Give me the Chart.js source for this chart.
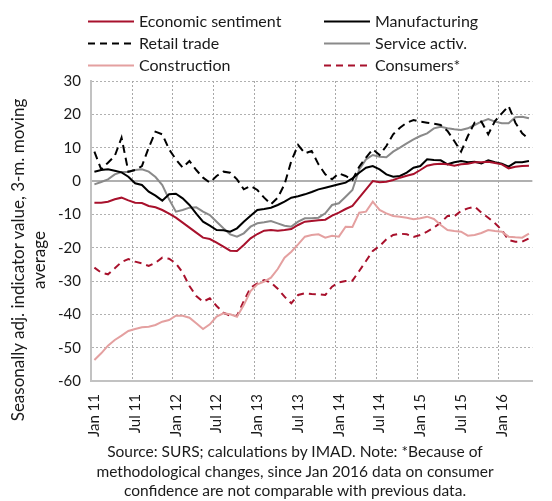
<!DOCTYPE html>
<html>
<head>
<meta charset="utf-8">
<script src="https://cdn.jsdelivr.net/npm/chart.js@4.4.1/dist/chart.umd.min.js"></script>
<style>
body { margin: 0; background: #fff; }
#wrap { position: relative; width: 552px; height: 501px; font-family: Lato, sans-serif; color: #1a1a1a; }
#wrap canvas { position: absolute; left: 0; top: 0; }
.leg { position: absolute; height: 22px; line-height: 22px; font-size: 16px; white-space: nowrap; }
.leg svg { position: absolute; left: 0; top: 10px; }
.leg span { position: absolute; left: 51px; top: 0; }
#ytitle { position: absolute; width: 380px; height: 44px; left: -161px; top: 238px;
  transform: rotate(-90deg); text-align: center; font-size: 17px; line-height: 21px; }
#note { position: absolute; left: 40px; width: 510px; top: 442px; text-align: center;
  font-size: 15.5px; line-height: 19.5px; }
</style>
</head>
<body>
<div id="wrap">
  <canvas id="chart" width="552" height="501"></canvas>
  <div id="legend"></div>
  <div id="ytitle">Seasonally adj. indicator value, 3-m. moving<br>average</div>
  <div id="note">Source: SURS; calculations by IMAD. Note: *Because of<br>methodological changes, since Jan 2016 data on consumer<br>confidence are not comparable with previous data.</div>
</div>
<script>
// monthly, Jan 2011 - May 2016
var monthNames = ["Jan","Feb","Mar","Apr","May","Jun","Jul","Aug","Sep","Oct","Nov","Dec"]
var years = ["11","12","13","14","15","16"]
var nMonths = 65

var economicSentiment = [
  -6.5, -6.5, -6.2, -5.5, -5.0, -5.8, -6.5, -6.6, -7.5, -7.9,
  -8.7, -9.8, -11.0, -12.5, -14.0, -15.5, -17.0, -17.4, -18.5, -19.7,
  -20.9, -21.0, -19.2, -17.2, -15.9, -14.9, -14.7, -14.9, -14.7, -14.4,
  -13.2, -12.2, -12.0, -11.8, -11.6, -10.4, -9.5, -8.4, -7.5, -5.0,
  -2.5, 0.0, -0.4, -0.2, 0.3, 1.0, 1.6, 2.1, 3.3, 4.6,
  5.0, 5.2, 5.0, 4.6, 5.0, 5.2, 5.6, 5.6, 5.8, 5.4,
  5.0, 3.8, 4.3, 4.5, 4.6
]
var manufacturing = [
  2.8, 3.3, 3.5, 3.1, 2.6, 1.3, -0.7, -1.2, -3.2, -4.4,
  -5.9, -4.0, -3.8, -5.2, -7.2, -9.8, -12.2, -13.4, -14.7, -14.8,
  -15.2, -14.2, -12.2, -10.4, -8.7, -8.4, -8.0, -7.2, -6.2, -5.0,
  -4.6, -4.0, -3.3, -2.5, -2.0, -1.5, -1.0, -0.5, 0.8, 2.5,
  4.0, 4.5, 3.5, 2.0, 1.3, 1.5, 2.5, 4.0, 4.5, 6.5,
  6.3, 6.2, 5.0, 5.6, 6.0, 5.6, 5.8, 5.3, 6.2, 5.6,
  5.2, 4.3, 5.6, 5.6, 6.0
]
var retailTrade = [
  8.8, 3.5, 5.5, 7.5, 13.0, 2.8, 3.3, 4.5, 10.0, 14.8,
  14.0, 9.5, 6.5, 4.0, 6.0, 3.3, 1.0, -0.5, 1.5, 2.8,
  2.5, 0.5, -2.5, -1.5, -2.7, -5.0, -7.0, -5.0, -1.0, 6.0,
  10.8, 8.3, 9.0, 5.0, 2.0, 0.5, 2.3, 1.5, 0.3, 4.3,
  7.0, 9.5, 7.8, 10.5, 14.0, 16.0, 17.5, 18.3, 17.8, 17.5,
  17.2, 16.8, 15.0, 12.0, 8.8, 13.5, 17.5, 17.8, 14.0, 18.0,
  20.3, 22.5, 17.5, 14.3, 12.5
]
var serviceActiv = [
  -1.0, -0.3, 0.5, 2.0, 2.7, 2.7, 3.3, 3.5, 2.8, 1.2,
  -1.2, -5.5, -9.2, -8.7, -8.0, -7.9, -9.2, -10.2, -12.2, -14.2,
  -16.0, -16.7, -15.7, -13.7, -12.7, -12.4, -12.0, -12.7, -13.4, -13.7,
  -12.2, -11.2, -11.2, -11.0, -9.7, -7.2, -6.7, -4.7, -2.7, 3.5,
  6.5, 7.8, 7.3, 7.1, 8.8, 10.0, 11.3, 12.5, 13.5, 14.3,
  15.8, 16.3, 15.8, 15.5, 15.3, 15.8, 16.8, 17.8, 18.6, 17.8,
  17.3, 17.3, 19.1, 19.3, 18.8
]
var construction = [
  -53.7, -51.7, -49.4, -47.7, -46.4, -45.0, -44.4, -43.9, -43.7, -43.2,
  -42.2, -41.7, -40.4, -40.4, -41.0, -42.7, -44.4, -43.0, -40.7, -39.7,
  -40.0, -40.7, -37.2, -33.0, -31.0, -30.2, -29.0, -26.4, -23.0, -21.2,
  -19.0, -16.7, -16.2, -16.0, -17.0, -16.4, -16.7, -13.7, -13.8, -9.5,
  -9.2, -6.2, -8.7, -9.7, -10.5, -10.7, -11.0, -11.5, -11.2, -10.7,
  -11.4, -13.2, -14.7, -15.0, -15.2, -16.4, -16.2, -15.6, -14.7, -15.0,
  -15.2, -16.7, -16.9, -17.0, -15.8
]
var consumers = [
  -26.0, -27.5, -28.0, -26.2, -24.3, -23.4, -24.2, -24.7, -25.5, -24.5,
  -23.0, -23.3, -24.7, -27.5, -31.5, -34.5, -36.2, -35.2, -37.5, -39.5,
  -40.4, -40.5, -36.0, -32.0, -30.7, -29.7, -30.5, -32.3, -34.7, -36.7,
  -34.2, -33.7, -33.9, -34.0, -34.2, -31.7, -30.4, -30.0, -29.9, -27.0,
  -24.0, -21.0, -19.5, -17.5, -16.2, -15.8, -16.0, -16.8, -16.2, -15.2,
  -14.0, -12.5, -10.5, -10.6, -9.0, -8.2, -7.7, -9.5, -11.0, -12.7,
  -14.7, -17.7, -18.2, -18.2, -17.2
]

var labels = []
for (var i = 0; i < nMonths; i++) {
  labels.push(monthNames[i % 12] + " " + years[Math.floor(i / 12)])
}

var darkRed = "#a8112c"
var series = [
  { label: "Economic sentiment", data: economicSentiment, color: darkRed, dash: [] },
  { label: "Manufacturing", data: manufacturing, color: "#000000", dash: [] },
  { label: "Retail trade", data: retailTrade, color: "#000000", dash: [8, 5] },
  { label: "Service activ.", data: serviceActiv, color: "#8a8a8a", dash: [] },
  { label: "Construction", data: construction, color: "#e4a0a0", dash: [] },
  { label: "Consumers*", data: consumers, color: darkRed, dash: [7, 5] }
]

// legend, two columns
var legend = document.getElementById("legend")
series.forEach(function (s, i) {
  var col = i % 2, row = Math.floor(i / 2)
  var d = document.createElement("div")
  d.className = "leg"
  d.style.left = (col ? 324 : 88) + "px"
  d.style.top = (10 + row * 22) + "px"
  var dash = s.dash.length ? ' stroke-dasharray="7 5"' : ''
  d.innerHTML = '<svg width="46" height="3"><line x1="0" y1="1.5" x2="46" y2="1.5" stroke="' + s.color +
    '" stroke-width="2"' + dash + '/></svg><span>' + s.label + '</span>'
  legend.appendChild(d)
})

// dotted vertical lines every 6 months, at the left edge of the category
var halfYearGrid = {
  id: "halfYearGrid",
  beforeDatasetsDraw: function (chart) {
    var xs = chart.scales.x, area = chart.chartArea, ctx = chart.ctx
    var half = (xs.getPixelForValue(1) - xs.getPixelForValue(0)) / 2
    ctx.save()
    ctx.strokeStyle = "#a8a8a8"
    ctx.lineWidth = 1
    ctx.setLineDash([2, 2])
    for (var i = 6; i < nMonths; i += 6) {
      var px = Math.round(xs.getPixelForValue(i) - half) + 0.5
      ctx.beginPath()
      ctx.moveTo(px, area.top)
      ctx.lineTo(px, area.bottom)
      ctx.stroke()
    }
    ctx.restore()
  }
}

var tickFont = { family: "Lato", size: 15 }

var chart = new Chart("chart", {
  type: "line",
  data: {
    labels: labels,
    datasets: series.map(function (s) {
      return {
        label: s.label,
        data: s.data,
        borderColor: s.color,
        backgroundColor: s.color,
        borderDash: s.dash,
        borderWidth: 2,
        pointRadius: 0,
        tension: 0,
        fill: false
      }
    })
  },
  plugins: [halfYearGrid],
  options: {
    responsive: false,
    animation: false,
    layout: { padding: { top: 81, right: 4, bottom: 0, left: 0 } },
    plugins: { legend: { display: false }, tooltip: { enabled: false } },
    scales: {
      x: {
        type: "category",
        offset: true,
        afterFit: function (scale) { scale.height = 120 },
        grid: { display: false },
        border: { display: true, color: "#c2c2c2", width: 2 },
        ticks: {
          autoSkip: false,
          maxRotation: 90,
          minRotation: 90,
          padding: 5,
          color: "#1a1a1a",
          font: tickFont,
          callback: function (v, i) { return i % 6 === 0 ? labels[i] : "" }
        }
      },
      y: {
        min: -60,
        max: 30,
        afterFit: function (scale) { scale.width = 91 },
        grid: {
          drawTicks: false,
          lineWidth: function (ctx) { return ctx.tick && ctx.tick.value === 0 ? 2 : 1 },
          color: "#b0b0b0"
        },
        border: {
          display: true, color: "#c2c2c2", width: 2,
          dash: function (ctx) { return ctx.tick && ctx.tick.value === 0 ? [] : [2, 2] }
        },
        ticks: { stepSize: 10, padding: 10, color: "#1a1a1a", font: tickFont }
      }
    }
  }
})
</script>
</body>
</html>
